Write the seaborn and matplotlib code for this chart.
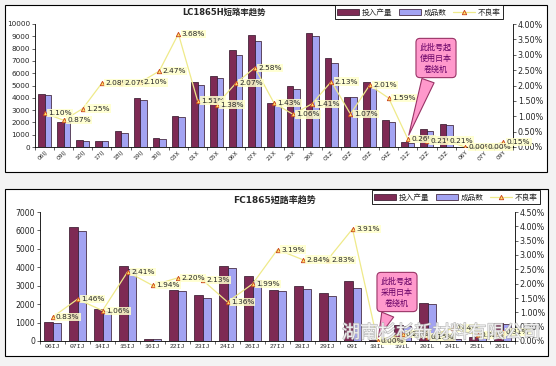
import numpy as np
import pandas as pd
import seaborn as sns
import matplotlib.pyplot as plt
import matplotlib.patheffects as pe
from matplotlib.patches import Patch, Rectangle
from matplotlib.lines import Line2D
from matplotlib.ticker import FuncFormatter, MultipleLocator

sns.set_style('ticks')
plt.rcParams['font.family'] = ['DejaVu Sans', 'Noto Sans CJK SC']

# LC1865H (top chart)
lc_lots = ['06IJ', '09IJ', '10IJ', '17IJ', '18IJ', '19IJ', '30IJ', '03X', '01X', '05X',
           '06X', '07X', '21X', '25X', '26X', '01Z', '02Z', '03Z', '04Z', '11Z',
           '12Z', '13Z', '06Y', '07Y', '09Y']
lc_input = [4300, 2000, 600, 500, 1300, 4000, 750, 2500, 5300, 5750,
            7850, 9100, 3550, 4950, 9250, 7200, 4100, 5300, 2200, 400,
            1500, 1900, 0, 0, 0]
lc_good = [4200, 2000, 500, 500, 1150, 3850, 680, 2400, 5050, 5600,
           7450, 8600, 3400, 4750, 9000, 6850, 4050, 4950, 2050, 330,
           1300, 1750, 0, 0, 0]
lc_rate = [1.10, 0.87, 1.25, 2.08, 2.07, 2.10, 2.47, 3.68, 1.51, 1.38,
           2.07, 2.58, 1.43, 1.06, 1.41, 2.13, 1.07, 2.01, 1.59, 0.26,
           0.21, 0.21, 0.00, 0.00, 0.15]

# FC1865 (bottom chart)
fc_lots = ['06IJ', '07IJ', '14IJ', '15IJ', '16IJ', '22IJ', '23IJ', '24IJ', '26IJ', '27IJ',
           '28IJ', '29IJ', '09I', '18IL', '19IL', '20IL', '24IL', '25IL', '26IL']
fc_input = [1050, 6200, 1720, 4050, 100, 2750, 2480, 4060, 3520, 2750,
            2980, 2580, 3280, 40, 850, 2060, 120, 200, 980]
fc_good = [980, 5950, 1620, 3900, 100, 2700, 2360, 3970, 3300, 2700,
           2800, 2430, 2850, 40, 800, 2000, 110, 180, 900]
fc_rate = [0.83, 1.46, 1.06, 2.41, 1.94, 2.20, 2.13, 1.36, 1.99, 3.19,
           2.84, 2.83, 3.91, 0.00, 0.25, 0.15, 0.44, 0.22, 0.31]

series_names = ['投入产量', '成品数', '不良率']

dark = '#7E2A54'
lav = '#A3A3F2'
edge = '#2E0F24'
line_c = '#EFEA8A'
mk = dict(marker='^', ms=3.2, mfc='#FFE066', mec='#C8401A', mew=0.6)

W, H = 556, 366
fig = plt.figure(figsize=(5.56, 3.66), dpi=100, facecolor='#F3F3F3')


def frame(x0, y0, x1, y1):
    fig.add_artist(Rectangle((x0 / W, 1 - y1 / H), (x1 - x0) / W, (y1 - y0) / H,
                             transform=fig.transFigure, fc='white', ec='black',
                             lw=0.8, zorder=-5))


def trend_chart(rect, lots, inp, good, rate, ymax, rmax, top):
    n = len(lots)
    ax = fig.add_axes(rect)
    ax.patch.set_alpha(0)
    df = pd.DataFrame({'批号': lots * 2,
                       '数量': inp + good,
                       '系列': [series_names[0]] * n + [series_names[1]] * n})
    sns.barplot(data=df, x='批号', y='数量', hue='系列', order=lots,
                hue_order=series_names[:2], palette=[dark, lav], saturation=1,
                width=0.68, gap=0, edgecolor=edge, linewidth=0.5,
                legend=False, ax=ax)
    ax.set_xlim(-0.5, n - 0.5)
    ax.set_ylim(0, ymax)
    ax.yaxis.set_major_locator(MultipleLocator(1000))
    ax.set_xlabel('')
    ax.set_ylabel('')
    ax.set_xticks(range(n))
    if top:
        ax.set_xticklabels(lots, rotation=45, ha='right', va='top',
                           rotation_mode='anchor', fontsize=4.3)
        ax.tick_params(axis='y', labelsize=5.2, length=2, width=0.5, pad=1.5)
    else:
        ax.set_xticklabels(lots, fontsize=4.6, family='Liberation Mono')
        ax.tick_params(axis='y', labelsize=5.6, length=2, width=0.5, pad=1.5)
    ax.set_xticks(np.arange(n + 1) - 0.5, minor=True)
    ax.tick_params(axis='x', which='major', length=0, pad=2)
    ax.tick_params(axis='x', which='minor', length=2, width=0.5)
    for s in ['top', 'right']:
        ax.spines[s].set_visible(False)
    for s in ['left', 'bottom']:
        ax.spines[s].set_linewidth(0.6)
        ax.spines[s].set_color('black')

    ax2 = ax.twinx()
    ax2.plot(range(n), rate, color=line_c, lw=0.9, **mk)
    ax2.set_xlim(-0.5, n - 0.5)
    ax2.set_ylim(0, rmax)
    ax2.yaxis.set_major_locator(MultipleLocator(0.5))
    ax2.yaxis.set_major_formatter(FuncFormatter(lambda v, p: f'{v:.2f}%'))
    ax2.tick_params(axis='y', labelsize=5.8, length=2, width=0.5, pad=1.5)
    for s in ['top', 'left', 'bottom']:
        ax2.spines[s].set_visible(False)
    ax2.spines['right'].set_linewidth(0.6)
    ax2.spines['right'].set_color('black')
    for i, r in enumerate(rate):
        ax2.annotate(f'{r:.2f}%', (i, r), xytext=(2.5, 0), textcoords='offset points',
                     ha='left', va='center', fontsize=5.3, annotation_clip=False,
                     bbox=dict(boxstyle='square,pad=0.15', fc='#FFFFCC', ec='none', alpha=0.85))
    return ax, ax2


def legend(ax2, cx, cy):
    handles = [Patch(fc=dark, ec=edge, lw=0.5), Patch(fc=lav, ec=edge, lw=0.5),
               Line2D([], [], color=line_c, lw=0.9, **mk)]
    lg = ax2.legend(handles, series_names, loc='center', bbox_to_anchor=(cx / W, 1 - cy / H),
                    bbox_transform=fig.transFigure, ncol=3, fontsize=5.5, frameon=True,
                    fancybox=False, edgecolor='black', framealpha=1, borderpad=0.3,
                    handlelength=2.8, handleheight=0.8, columnspacing=0.9, handletextpad=0.4)
    lg.get_frame().set_linewidth(0.6)


def callout(ax2, text, xy, cx, cy):
    ax2.annotate(text, xy=xy, xytext=(cx / W, 1 - cy / H), textcoords='figure fraction',
                 ha='center', va='center', fontsize=5.8, color='#660066',
                 annotation_clip=False, linespacing=1.3,
                 bbox=dict(boxstyle='round,pad=0.5', fc='#FF99CC', ec='#993366', lw=0.8),
                 arrowprops=dict(arrowstyle='wedge,tail_width=1.6', fc='#FF99CC',
                                 ec='#993366', lw=0.8))


# top chart
frame(5, 5, 547, 172)
ax, ax2 = trend_chart([35 / W, 1 - 147 / H, 478 / W, 123 / H],
                      lc_lots, lc_input, lc_good, lc_rate, 10000, 4.0, True)
fig.text(224 / W, 1 - 12 / H, 'LC1865H短路率趋势', ha='center', va='center',
         fontsize=6, fontweight='bold')
legend(ax2, 419, 12)
callout(ax2, '此批号起\n使用日本\n卷绕机', (19, 0.3), 436, 58)

# bottom chart
frame(5, 189, 548, 356)
bx, bx2 = trend_chart([40 / W, 1 - 341 / H, 475 / W, 129 / H],
                      fc_lots, fc_input, fc_good, fc_rate, 7000, 4.5, False)
fig.text(275 / W, 1 - 200 / H, 'FC1865短路率趋势', ha='center', va='center',
         fontsize=6.5, fontweight='bold')
legend(bx2, 456, 197)
callout(bx2, '此批号起\n采用日本\n卷绕机', (13, 0.05), 397, 292)

# watermark
fig.text(342 / W, 1 - 333 / H, '湖南杉杉新材料有限公司', ha='left', va='center',
         fontsize=13, color='white', alpha=0.8, family=['Noto Sans CJK SC', 'DejaVu Sans'],
         zorder=20, path_effects=[pe.withStroke(linewidth=1.0, foreground='#ABABAB')])

fig.savefig('out.png', dpi=100, facecolor=fig.get_facecolor())
